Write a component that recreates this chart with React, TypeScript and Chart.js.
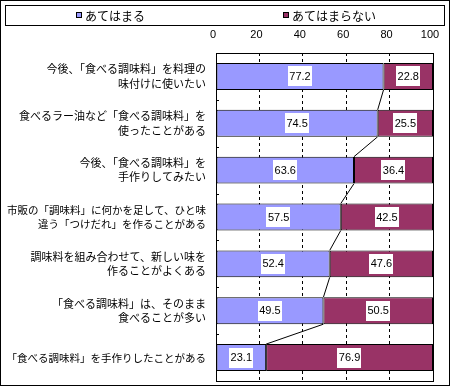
import { useEffect, useRef } from "react";
import { Chart, registerables } from "chart.js";
Chart.register(...registerables);

const categories: (string | string[])[] = [
  ["今後、「食べる調味料」を料理の", "味付けに使いたい"],
  ["食べるラー油など「食べる調味料」を", "使ったことがある"],
  ["今後、「食べる調味料」を", "手作りしてみたい"],
  ["市販の「調味料」に何かを足して、ひと味", "違う「つけだれ」を作ることがある"],
  ["調味料を組み合わせて、新しい味を", "作ることがよくある"],
  ["「食べる調味料」は、そのまま", "食べることが多い"],
  "「食べる調味料」を手作りしたことがある",
];
const yesValues = [77.2, 74.5, 63.6, 57.5, 52.4, 49.5, 23.1];
const noValues = [22.8, 25.5, 36.4, 42.5, 47.6, 50.5, 76.9];
const seriesNames = ["あてはまる", "あてはまらない"];
const seriesColors = ["#9999FF", "#993366"];
const xMin = 0;
const xMax = 100;
const xStep = 20;

const JP = '"Noto Sans CJK JP", "Noto Sans", sans-serif';
const NUM = '"Liberation Sans", Arial, sans-serif';

export default function App() {
  const ref = useRef<HTMLCanvasElement | null>(null);
  useEffect(() => {
    document.body.style.margin = "0";
    const canvas = ref.current!;
    const decor = {
      id: "decor",
      beforeDraw(chart: any) {
        const ctx = chart.ctx;
        ctx.save();
        ctx.fillStyle = "#fff";
        ctx.fillRect(0, 0, chart.width, chart.height);
        ctx.restore();
      },
      afterDatasetsDraw(chart: any) {
        const ctx = chart.ctx;
        const a = chart.chartArea;
        ctx.save();
        ctx.strokeStyle = "#000";
        ctx.lineWidth = 1;
        ctx.setLineDash([]);
        ctx.strokeRect(Math.round(a.left) + 0.5, Math.round(a.top) + 0.5, Math.round(a.right - a.left), Math.round(a.bottom - a.top));
        const n = categories.length;
        const step = (a.bottom - a.top) / n;
        for (let k = 1; k < n; k++) {
          const y = Math.round(a.top + step * k) + 0.5;
          ctx.beginPath();
          ctx.moveTo(a.left, y);
          ctx.lineTo(a.left + 3, y);
          ctx.stroke();
        }
        const m0 = chart.getDatasetMeta(0).data;
        for (let i = 0; i < m0.length - 1; i++) {
          const e1 = m0[i].getProps(["x", "y", "height"], true);
          const e2 = m0[i + 1].getProps(["x", "y", "height"], true);
          ctx.beginPath();
          ctx.moveTo(e1.x, e1.y + e1.height / 2);
          ctx.lineTo(e2.x, e2.y - e2.height / 2);
          ctx.stroke();
        }
        ctx.font = `11px ${NUM}`;
        ctx.textAlign = "center";
        ctx.textBaseline = "middle";
        chart.data.datasets.forEach((ds: any, di: number) => {
          const meta = chart.getDatasetMeta(di).data;
          meta.forEach((el: any, i: number) => {
            const p = el.getProps(["x", "y", "base"], true);
            const cx = (p.x + p.base) / 2;
            const txt = ds.data[i].toFixed(1);
            const w = ctx.measureText(txt).width + 3;
            const h = 20;
            ctx.fillStyle = "#fff";
            ctx.fillRect(Math.round(cx - w / 2), Math.round(p.y - h / 2), Math.round(w), h);
            ctx.fillStyle = "#000";
            ctx.fillText(txt, cx, p.y + 0.5);
          });
        });
        ctx.restore();
      },
      afterDraw(chart: any) {
        const ctx = chart.ctx;
        ctx.save();
        ctx.strokeStyle = "#000";
        ctx.lineWidth = 1;
        ctx.strokeRect(0.5, 0.5, chart.width - 1, chart.height - 1);
        ctx.strokeRect(5.5, 5.5, 439, 20);
        const items = [76, 283];
        ctx.font = `12px ${JP}`;
        ctx.textAlign = "left";
        ctx.textBaseline = "middle";
        seriesNames.forEach((name, i) => {
          const x = items[i];
          ctx.fillStyle = seriesColors[i];
          ctx.fillRect(x, 12, 6, 6);
          ctx.strokeRect(x + 0.5, 12.5, 5, 5);
          ctx.fillStyle = "#000";
          ctx.fillText(name, x + 9, 16);
        });
        ctx.restore();
      },
    };
    const chart = new Chart(canvas, {
      type: "bar",
      data: {
        labels: categories,
        datasets: seriesNames.map((name, i) => ({
          label: name,
          data: i === 0 ? yesValues : noValues,
          backgroundColor: seriesColors[i],
          borderColor: "#000",
          borderWidth: 1,
          borderSkipped: false,
          barPercentage: 0.575,
          categoryPercentage: 1,
        })),
      },
      options: {
        indexAxis: "y",
        responsive: false,
        animation: false,
        events: [],
        layout: { padding: { left: 5, right: 17, top: 28, bottom: 5 } },
        plugins: { legend: { display: false }, tooltip: { enabled: false } },
        scales: {
          x: {
            position: "top",
            stacked: true,
            min: xMin,
            max: xMax,
            ticks: { stepSize: xStep, color: "#000", font: { family: NUM, size: 11 }, padding: 11, labelOffset: -3 },
            grid: {
              drawTicks: false,
              color: (c: any) => (c.tick && (c.tick.value === xMin || c.tick.value === xMax) ? "rgba(0,0,0,0)" : "#000"),
              lineWidth: 1,
            },
            border: { display: false, dash: [3, 3] },
            afterFit: (axis: any) => {
              axis.height = 25;
              axis.paddingLeft = 0;
              axis.paddingRight = 0;
            },
          },
          y: {
            stacked: true,
            ticks: {
              color: "#000",
              font: (c: any) => ({ family: JP, size: c.index === 3 || c.index === 6 ? 10.5 : 11, lineHeight: 1.3 }),
              padding: 10,
              autoSkip: false,
            },
            grid: { display: false, drawTicks: false },
            border: { display: false },
            afterFit: (axis: any) => {
              axis.width = 211;
              axis.paddingTop = 0;
              axis.paddingBottom = 0;
            },
          },
        },
      },
      plugins: [decor],
    } as any);
    return () => chart.destroy();
  }, []);
  return (
    <div style={{ width: 450, height: 386 }}>
      <canvas ref={ref} width={450} height={386} style={{ display: "block" }} />
    </div>
  );
}
